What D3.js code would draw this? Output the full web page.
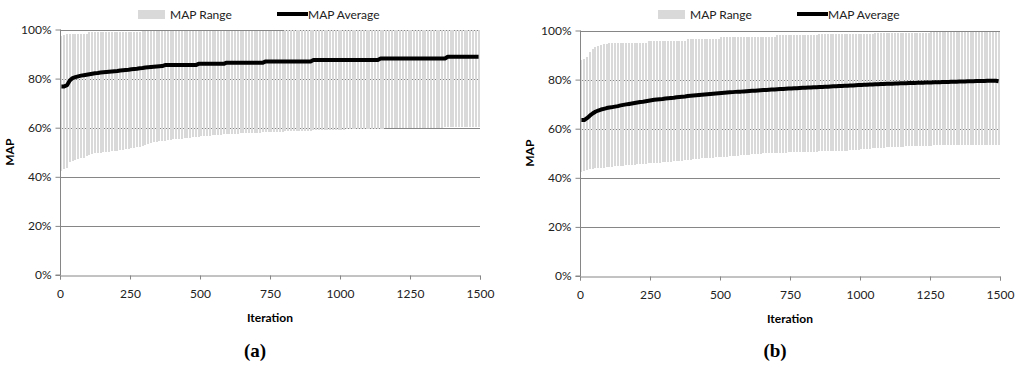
<!DOCTYPE html>
<html>
<head>
<meta charset="utf-8">
<script src="https://cdn.jsdelivr.net/npm/d3@7"></script>
<style>
  html, body { margin: 0; padding: 0; background: #fff; }
  svg { display: block; }
  text { font-family: Lato, "Liberation Sans", sans-serif; }
</style>
</head>
<body>
<div id="chart"></div>
<script>
// --- data (MAP in %, one value every 10 iterations) ---
const STEP = 10;
const yTicks = [0, 20, 40, 60, 80, 100];
const xTicks = [0, 250, 500, 750, 1000, 1250, 1500];
const panelLabels = ["(a)", "(b)"];

const aMax = [
  97.2, 97.6, 98.2, 98.2, 98.2, 98.2, 98.2, 98.2, 98.2, 98.2,
  98.8, 98.8, 98.8, 98.8, 98.8, 98.8, 98.8, 98.8, 98.8, 98.8,
  98.8, 98.8, 98.8, 98.8, 98.8, 98.8, 98.8, 98.8, 98.8, 99.3,
  99.3, 99.3, 99.3, 99.3, 99.3, 99.3, 99.3, 99.3, 99.3, 99.3,
  99.3, 99.3, 99.3, 99.3, 99.3, 99.3, 99.3, 99.3, 99.3, 99.3,
  99.3, 99.3, 99.3, 99.3, 99.3, 99.3, 99.3, 99.3, 99.3, 99.3,
  99.3, 99.3, 99.3, 99.3, 99.3, 99.3, 99.3, 99.3, 99.3, 99.3,
  99.3, 99.3, 99.3, 99.3, 99.3, 99.3, 99.3, 99.3, 99.3, 99.3,
  99.6, 99.6, 99.6, 99.6, 99.6, 99.6, 99.6, 99.6, 99.6, 99.6,
  99.6, 99.6, 99.6, 99.6, 99.6, 99.6, 99.6, 99.6, 99.6, 99.6,
  99.6, 99.6, 99.6, 99.6, 99.6, 99.6, 99.6, 99.6, 99.6, 99.6,
  99.6, 99.6, 99.6, 99.6, 99.6, 99.9, 99.9, 99.9, 99.9, 99.9,
  99.9, 99.9, 99.9, 99.9, 99.9, 99.9, 99.9, 99.9, 99.9, 99.9,
  99.9, 99.9, 99.9, 99.9, 99.9, 99.9, 99.9, 99.9, 99.9, 99.9,
  99.9, 99.9, 99.9, 99.9, 99.9, 99.9, 99.9, 99.9, 99.9, 99.9
];
const aMin = [
  42.2, 43.0, 43.5, 46.0, 46.5, 47.0, 47.2, 47.5, 47.8, 48.3,
  48.8, 49.2, 49.5, 49.6, 49.8, 49.9, 50.0, 50.2, 50.4, 50.5,
  50.7, 50.8, 50.9, 51.2, 51.5, 51.7, 51.9, 52.1, 52.3, 52.6,
  52.8, 53.3, 53.8, 54.0, 54.2, 54.4, 54.5, 54.7, 54.8, 55.0,
  55.2, 55.4, 55.5, 55.6, 55.8, 55.9, 56.0, 56.1, 56.2, 56.3,
  56.5, 56.6, 56.7, 56.8, 56.9, 57.0, 57.1, 57.2, 57.3, 57.4,
  57.5, 57.5, 57.6, 57.6, 57.7, 57.7, 57.8, 57.8, 57.8, 57.9,
  58.0, 58.0, 58.1, 58.1, 58.2, 58.2, 58.3, 58.3, 58.4, 58.4,
  58.5, 58.5, 58.6, 58.6, 58.6, 58.7, 58.7, 58.8, 58.8, 58.8,
  58.9, 58.9, 58.9, 59.0, 59.0, 59.0, 59.1, 59.1, 59.1, 59.2,
  59.2, 59.2, 59.3, 59.3, 59.3, 59.4, 59.4, 59.4, 59.5, 59.5,
  59.5, 59.5, 59.6, 59.6, 59.6, 59.6, 59.7, 59.7, 59.7, 59.7,
  59.7, 59.8, 59.8, 59.8, 59.8, 59.8, 59.8, 59.9, 59.9, 59.9,
  59.9, 59.9, 59.9, 59.9, 59.9, 59.9, 59.9, 60.1, 60.1, 60.1,
  60.1, 60.1, 60.1, 60.1, 60.1, 60.1, 60.1, 60.1, 60.1, 60.1
];
const aAvg = [
  76.8, 76.8, 77.3, 79.2, 80.2, 80.6, 80.9, 81.2, 81.4, 81.6,
  81.8, 82.0, 82.2, 82.3, 82.5, 82.6, 82.7, 82.8, 82.9, 83.0,
  83.1, 83.3, 83.4, 83.5, 83.6, 83.8, 83.9, 84.0, 84.2, 84.3,
  84.5, 84.6, 84.7, 84.8, 84.9, 85.0, 85.1, 85.5, 85.5, 85.5,
  85.5, 85.5, 85.5, 85.5, 85.5, 85.5, 85.5, 85.5, 85.5, 86.0,
  86.0, 86.0, 86.0, 86.0, 86.0, 86.0, 86.0, 86.0, 86.0, 86.5,
  86.5, 86.5, 86.5, 86.5, 86.5, 86.5, 86.5, 86.5, 86.5, 86.5,
  86.5, 86.5, 86.5, 87.0, 87.0, 87.0, 87.0, 87.0, 87.0, 87.0,
  87.0, 87.0, 87.0, 87.0, 87.0, 87.0, 87.0, 87.0, 87.0, 87.0,
  87.6, 87.6, 87.6, 87.6, 87.6, 87.6, 87.6, 87.6, 87.6, 87.6,
  87.6, 87.6, 87.6, 87.6, 87.6, 87.6, 87.6, 87.6, 87.6, 87.6,
  87.6, 87.6, 87.6, 87.6, 88.2, 88.2, 88.2, 88.2, 88.2, 88.2,
  88.2, 88.2, 88.2, 88.2, 88.2, 88.2, 88.2, 88.2, 88.2, 88.2,
  88.2, 88.2, 88.2, 88.2, 88.2, 88.2, 88.2, 88.2, 88.9, 88.9,
  88.9, 88.9, 88.9, 88.9, 88.9, 88.9, 88.9, 88.9, 88.9, 88.9
];

const bMax = [
  88.0, 88.5, 89.3, 91.4, 92.5, 93.3, 93.8, 94.2, 94.4, 94.5,
  95.0, 95.0, 95.0, 95.0, 95.0, 95.0, 95.0, 95.0, 95.0, 95.0,
  95.0, 95.0, 95.0, 95.0, 95.8, 95.8, 95.8, 95.8, 95.8, 95.8,
  95.8, 95.8, 95.8, 95.8, 95.8, 95.8, 95.8, 95.8, 96.5, 96.5,
  96.5, 96.5, 96.5, 96.5, 96.5, 96.5, 96.5, 96.5, 96.5, 96.5,
  97.4, 97.4, 97.4, 97.4, 97.4, 97.4, 97.4, 97.4, 97.4, 97.4,
  97.4, 97.4, 97.4, 97.4, 97.4, 97.4, 97.4, 97.4, 97.4, 97.4,
  98.0, 98.0, 98.0, 98.0, 98.0, 98.0, 98.0, 98.0, 98.0, 98.0,
  98.0, 98.0, 98.0, 98.0, 98.0, 98.5, 98.5, 98.5, 98.5, 98.5,
  98.5, 98.5, 98.5, 98.5, 98.5, 98.5, 98.5, 98.5, 98.5, 98.5,
  98.5, 98.5, 98.5, 98.5, 98.5, 99.0, 99.0, 99.0, 99.0, 99.0,
  99.0, 99.0, 99.0, 99.0, 99.0, 99.0, 99.0, 99.0, 99.0, 99.0,
  99.0, 99.0, 99.0, 99.0, 99.0, 99.5, 99.5, 99.5, 99.5, 99.5,
  99.5, 99.5, 99.5, 99.5, 99.5, 99.5, 99.5, 99.5, 99.5, 99.5,
  99.5, 99.5, 99.5, 99.5, 99.5, 99.5, 99.5, 99.5, 99.5, 99.5
];
const bMin = [
  42.5, 42.8, 43.2, 43.5, 43.7, 43.8, 43.9, 44.0, 44.1, 44.3,
  44.5, 44.6, 44.7, 44.8, 44.9, 45.0, 45.1, 45.2, 45.3, 45.4,
  45.5, 45.6, 45.7, 45.8, 45.9, 46.0, 46.1, 46.1, 46.2, 46.3,
  46.4, 46.5, 46.6, 46.7, 46.8, 46.9, 47.0, 47.1, 47.2, 47.4,
  47.6, 47.7, 47.8, 47.9, 48.0, 48.1, 48.2, 48.2, 48.3, 48.3,
  48.4, 48.5, 48.6, 48.7, 48.8, 48.9, 49.0, 49.1, 49.2, 49.3,
  49.4, 49.5, 49.6, 49.7, 49.8, 49.9, 50.0, 50.0, 50.1, 50.1,
  50.2, 50.2, 50.3, 50.3, 50.4, 50.4, 50.5, 50.5, 50.5, 50.6,
  50.6, 50.6, 50.7, 50.7, 50.7, 50.8, 50.8, 50.8, 50.9, 50.9,
  50.9, 51.0, 51.0, 51.0, 51.1, 51.1, 51.2, 51.3, 51.4, 51.5,
  51.6, 51.7, 51.8, 51.9, 52.0, 52.0, 52.1, 52.2, 52.3, 52.4,
  52.5, 52.5, 52.6, 52.6, 52.7, 52.7, 52.8, 52.8, 52.9, 52.9,
  53.0, 53.0, 53.0, 53.1, 53.1, 53.1, 53.2, 53.2, 53.2, 53.2,
  53.3, 53.3, 53.3, 53.3, 53.3, 53.3, 53.3, 53.3, 53.3, 53.3,
  53.4, 53.4, 53.4, 53.4, 53.4, 53.4, 53.4, 53.4, 53.4, 53.4
];
const bAvg = [
  63.5, 63.5, 64.3, 65.3, 66.2, 66.9, 67.4, 67.8, 68.1, 68.4,
  68.6, 68.8, 69.0, 69.2, 69.5, 69.7, 69.9, 70.1, 70.3, 70.5,
  70.7, 70.9, 71.0, 71.2, 71.4, 71.6, 71.8, 71.9, 72.0, 72.1,
  72.3, 72.4, 72.5, 72.6, 72.8, 72.9, 73.0, 73.1, 73.3, 73.4,
  73.5, 73.6, 73.7, 73.8, 73.9, 74.0, 74.1, 74.2, 74.3, 74.4,
  74.5, 74.6, 74.7, 74.8, 74.9, 75.0, 75.1, 75.1, 75.2, 75.3,
  75.4, 75.5, 75.5, 75.6, 75.7, 75.8, 75.8, 75.9, 76.0, 76.0,
  76.1, 76.2, 76.2, 76.3, 76.4, 76.4, 76.5, 76.5, 76.6, 76.7,
  76.7, 76.8, 76.8, 76.9, 76.9, 77.0, 77.0, 77.1, 77.1, 77.2,
  77.3, 77.3, 77.4, 77.4, 77.5, 77.5, 77.6, 77.6, 77.7, 77.8,
  77.8, 77.9, 77.9, 78.0, 78.0, 78.1, 78.1, 78.2, 78.2, 78.3,
  78.3, 78.3, 78.4, 78.4, 78.5, 78.5, 78.5, 78.6, 78.6, 78.6,
  78.7, 78.7, 78.7, 78.8, 78.8, 78.8, 78.9, 78.9, 78.9, 79.0,
  79.0, 79.0, 79.1, 79.1, 79.1, 79.2, 79.2, 79.2, 79.3, 79.3,
  79.3, 79.4, 79.4, 79.4, 79.4, 79.5, 79.5, 79.5, 79.5, 79.3
];

// --- layout ---
const W = 1024, H = 382;
const panels = [
  { min: aMin, max: aMax, avg: aAvg, left: 60, right: 480, top: 29.5, bottom: 275, label: panelLabels[0] },
  { min: bMin, max: bMax, avg: bAvg, left: 580, right: 1000, top: 30.5, bottom: 276, label: panelLabels[1] }
];

const svg = d3.select("#chart").append("svg")
  .attr("width", W)
  .attr("height", H);

const axisGrey = "#868686";
const barGrey = "#d9d9d9";

panels.forEach(p => {
  const x = d3.scaleLinear().domain([0, 1500]).range([p.left, p.right]);
  const y = d3.scaleLinear().domain([0, 100]).range([p.bottom, p.top]);
  const rows = p.avg.map((v, i) => ({ it: i * STEP + STEP / 2, lo: p.min[i], hi: p.max[i], avg: v }));
  const g = svg.append("g");

  // gridlines (behind the range bars)
  g.append("g").selectAll("line")
    .data(yTicks.filter(t => t > 0))
    .join("line")
    .attr("x1", p.left).attr("x2", p.right)
    .attr("y1", d => Math.round(y(d)) + 0.5).attr("y2", d => Math.round(y(d)) + 0.5)
    .attr("stroke", axisGrey).attr("stroke-width", 1);

  // MAP range bars
  const bw = (x(STEP) - x(0)) * 0.72;
  g.append("g").selectAll("rect")
    .data(rows)
    .join("rect")
    .attr("x", d => x(d.it) - bw / 2)
    .attr("width", bw)
    .attr("y", d => y(d.hi))
    .attr("height", d => y(d.lo) - y(d.hi))
    .attr("fill", barGrey)
    .attr("shape-rendering", "crispEdges");

  // axes
  const yAxis = d3.axisLeft(y).tickValues(yTicks).tickSize(5).tickFormat(d => d + "%");
  const gy = g.append("g").attr("transform", `translate(${p.left + 0.5},0)`).call(yAxis);
  const xAxis = d3.axisBottom(x).tickValues(xTicks).tickSize(4).tickPadding(10).tickFormat(d3.format("d"));
  const gx = g.append("g").attr("transform", `translate(0,${Math.round(p.bottom) + 0.5})`).call(xAxis);
  [gx, gy].forEach(a => {
    a.select(".domain").attr("stroke", axisGrey);
    a.selectAll(".tick line").attr("stroke", axisGrey);
    a.selectAll(".tick text").attr("fill", "#222").style("font-size", "12px").style("font-family", "Lato, sans-serif");
  });
  gy.selectAll(".tick text").attr("x", -9);
  gy.select(".domain").attr("d", `M-5,${y(0)}H0V${y(100)}`);

  // MAP average line
  const line = d3.line().x(d => x(d.it)).y(d => y(d.avg));
  g.append("path")
    .datum(rows)
    .attr("d", line)
    .attr("fill", "none")
    .attr("stroke", "#000")
    .attr("stroke-width", 4)
    .attr("stroke-linejoin", "round");

  // axis titles
  g.append("text")
    .attr("transform", `translate(${p.left - 49},${(p.top + p.bottom) / 2}) rotate(-90)`)
    .attr("text-anchor", "middle")
    .attr("dominant-baseline", "middle")
    .style("font-size", "12px").style("font-weight", "bold")
    .text("MAP");
  g.append("text")
    .attr("x", (p.left + p.right) / 2)
    .attr("y", p.bottom + 47)
    .attr("text-anchor", "middle")
    .style("font-size", "12px").style("font-weight", "bold")
    .text("Iteration");

  // legend
  const lg = g.append("g").attr("transform", `translate(${p.left},0)`);
  lg.append("rect").attr("x", 78).attr("y", 10).attr("width", 27).attr("height", 9).attr("fill", barGrey);
  lg.append("text").attr("x", 110).attr("y", 19).style("font-size", "12px").attr("fill", "#222").text("MAP Range");
  lg.append("line").attr("x1", 217).attr("x2", 248).attr("y1", 14).attr("y2", 14)
    .attr("stroke", "#000").attr("stroke-width", 4);
  lg.append("text").attr("x", 248).attr("y", 19).style("font-size", "12px").attr("fill", "#222").text("MAP Average");

  // panel caption
  g.append("text")
    .attr("x", (p.left + p.right) / 2 - 15)
    .attr("y", 357)
    .attr("text-anchor", "middle")
    .style("font-family", "'Liberation Serif', serif")
    .style("font-size", "19px").style("font-weight", "bold")
    .text(p.label);
});
</script>
</body>
</html>
